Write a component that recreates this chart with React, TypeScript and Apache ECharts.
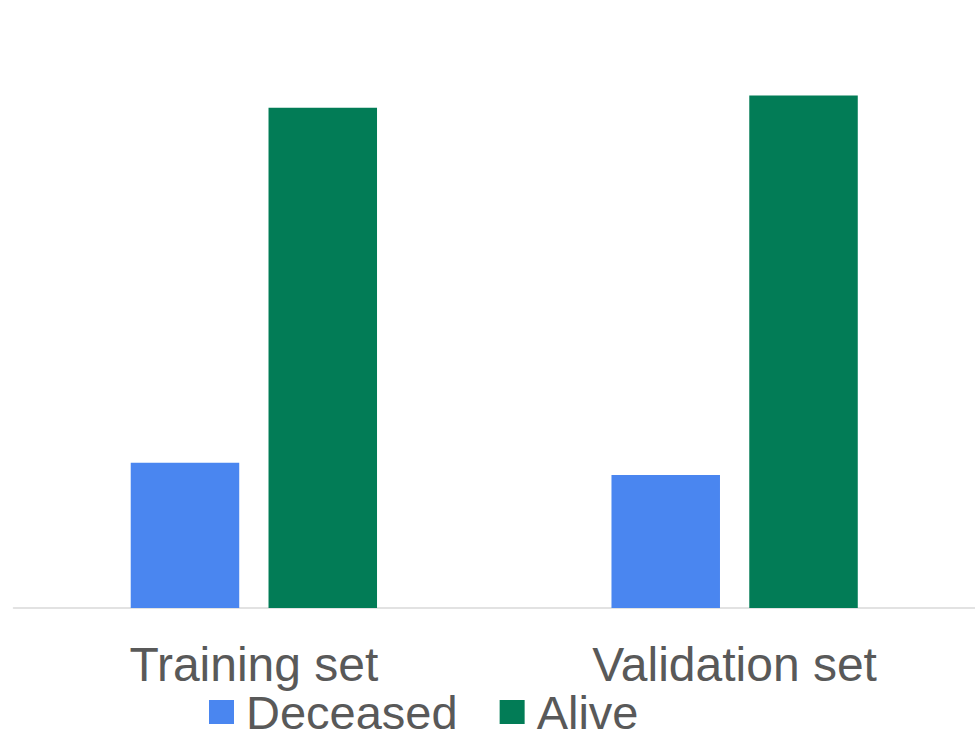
import React, { useEffect, useRef } from "react";
import * as echarts from "echarts";

const categories = ["Training set", "Validation set"];
const seriesNames = ["Deceased", "Alive"];
const deceased = [22.5, 20.6];
const alive = [77.5, 79.4];
const colors = ["#4A86F0", "#027C56"];

export default function App() {
  const ref = useRef<HTMLDivElement>(null);
  useEffect(() => {
    if (!ref.current) return;
    const chart = echarts.init(ref.current, null, { renderer: "svg" });
    const font = "Arial, 'Liberation Sans', sans-serif";
    chart.setOption({
      animation: false,
      backgroundColor: "#ffffff",
      textStyle: { fontFamily: font },
      grid: { left: 13.5, right: 0, top: 91.6, bottom: 122 },
      legend: {
        data: seriesNames,
        left: 209,
        top: 688.5,
        padding: 0,
        itemWidth: 25,
        itemHeight: 24,
        itemGap: 42,
        icon: "rect",
        textStyle: {
          fontSize: 47,
          color: "#595959",
          fontFamily: font,
          padding: [0, 0, 0, 7],
        },
      },
      xAxis: {
        type: "category",
        data: categories,
        axisLine: { show: true, lineStyle: { color: "#D9D9D9", width: 1.5 } },
        axisTick: { show: false },
        axisLabel: {
          fontSize: 48,
          color: "#595959",
          fontFamily: font,
          margin: 32,
        },
      },
      yAxis: {
        type: "value",
        min: 0,
        max: 80,
        show: false,
        splitLine: { show: false },
      },
      series: [
        {
          name: seriesNames[0],
          type: "bar",
          data: deceased,
          barWidth: 108.5,
          barGap: "27%",
          itemStyle: { color: colors[0] },
        },
        {
          name: seriesNames[1],
          type: "bar",
          data: alive,
          barWidth: 108.5,
          barGap: "27%",
          itemStyle: { color: colors[1] },
        },
      ],
    });
    return () => chart.dispose();
  }, []);
  return (
    <div
      ref={ref}
      style={{ position: "absolute", left: 0, top: 0, width: 975, height: 730 }}
    />
  );
}
